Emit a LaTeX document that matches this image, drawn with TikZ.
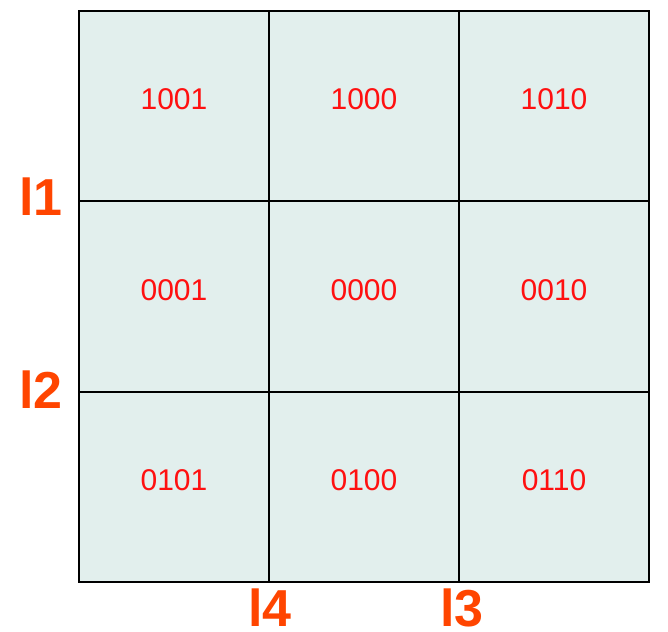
\documentclass[tikz,border=0pt]{standalone}
\usepackage{fontspec}
\setmainfont{Liberation Sans}
\definecolor{cellfill}{HTML}{E2EFED}
\definecolor{codered}{HTML}{FF1010}
\definecolor{linered}{HTML}{FF4500}
\tikzset{
  code/.style={text=codered, font=\fontsize{30}{30}\selectfont},
  lbl/.style={text=linered, font=\fontsize{52}{52}\selectfont\bfseries}
}
\begin{document}
\begin{tikzpicture}[x=1pt, y=-1pt, every node/.style={inner sep=0pt}]
    \useasboundingbox (0,0) rectangle (668,631);
    \fill[cellfill] (79,11) rectangle (649,582);

    \draw[black, line width=2pt] (79,11) rectangle (649,582);
    \draw[black, line width=2pt] (269,11) -- (269,582);
    \draw[black, line width=2pt] (459,11) -- (459,582);
    \draw[black, line width=2pt] (79,201) -- (649,201);
    \draw[black, line width=2pt] (79,392) -- (649,392);

    \node[code] (c1001) at (174,99) {1001};
    \node[code] (c1000) at (364,99) {1000};
    \node[code] (c1010) at (554,99) {1010};
    \node[code] (c0001) at (174,290) {0001};
    \node[code] (c0000) at (364,290) {0000};
    \node[code] (c0010) at (554,290) {0010};
    \node[code] (c0101) at (174,480) {0101};
    \node[code] (c0100) at (364,480) {0100};
    \node[code] (c0110) at (554,480) {0110};

    \node[lbl] (l1) at (41,197) {l1};
    \node[lbl] (l2) at (41,390) {l2};
    \node[lbl] (l4) at (270,608) {l4};
    \node[lbl] (l3) at (462,608) {l3};
\end{tikzpicture}
\end{document}
